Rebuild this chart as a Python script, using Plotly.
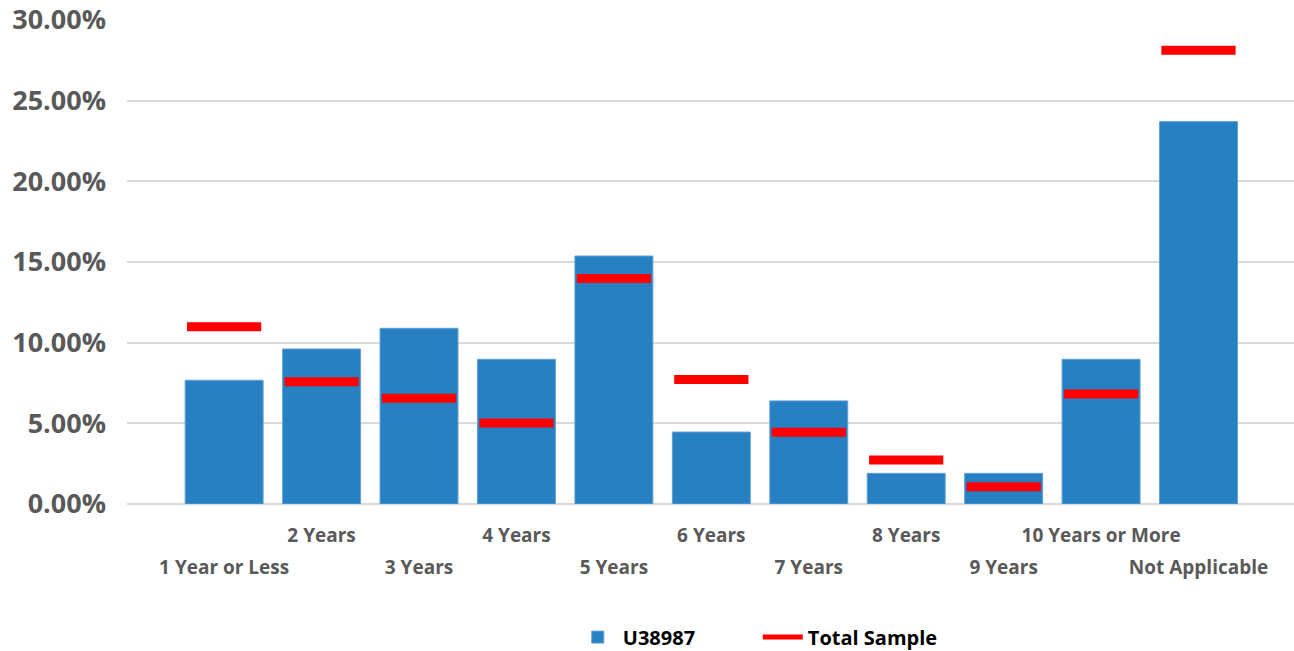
import plotly.graph_objects as go

categories = ["1 Year or Less", "2 Years", "3 Years", "4 Years", "5 Years", "6 Years",
              "7 Years", "8 Years", "9 Years", "10 Years or More", "Not Applicable"]
u38987 = [0.0767, 0.0961, 0.1089, 0.0897, 0.1537, 0.0446, 0.0639, 0.0190, 0.0190, 0.0897, 0.2370]
total_sample = [0.1099, 0.0758, 0.0655, 0.0502, 0.1397, 0.0771, 0.0444, 0.0273, 0.0107, 0.0682, 0.2813]
y_ticks = [0, 0.05, 0.10, 0.15, 0.20, 0.25, 0.30]

idx = list(range(len(categories)))
odd_idx = [i for i in idx if i % 2 == 1]
even_idx = [i for i in idx if i % 2 == 0]

FONT = "Open Sans"
xr = [-0.997, 10.98]

fig = go.Figure()
fig.add_trace(go.Bar(
    x=idx, y=u38987, name="U38987",
    marker=dict(color="#2680C2", line=dict(color="#5FA0D8", width=1)),
))
fig.add_trace(go.Scatter(
    x=idx, y=total_sample, name="Total Sample", mode="markers", showlegend=False,
    marker=dict(symbol="line-ew", size=53, color="#FF0000",
                line=dict(color="#FF0000", width=9)),
))
# legend entry for the Total Sample marks (drawn as a red line, as in the reference)
fig.add_trace(go.Scatter(
    x=[None], y=[None], name="Total Sample", mode="lines",
    line=dict(color="#FF0000", width=5), hoverinfo="skip",
))

fig.update_layout(
    width=1294, height=651,
    margin=dict(l=127, r=0, t=20, b=147, autoexpand=False),
    paper_bgcolor="white", plot_bgcolor="white",
    bargap=0.2,
    font=dict(family=FONT),
    showlegend=True,
    legend=dict(orientation="h", x=0.382, xanchor="left", y=-0.275, yanchor="middle",
                font=dict(family=FONT, size=20, color="black", weight="bold"),
                itemwidth=40, entrywidth=130, entrywidthmode="pixels", tracegroupgap=0),
    xaxis=dict(
        range=xr, showgrid=False, zeroline=False, showline=False, automargin=False,
        tickmode="array", tickvals=odd_idx, ticktext=[categories[i] for i in odd_idx],
        ticks="", ticklabelstandoff=18,
        tickfont=dict(family=FONT, size=19, color="#595959", weight="bold"),
    ),
    xaxis2=dict(
        range=xr, overlaying="x", anchor="y", side="bottom", matches="x", automargin=False,
        showgrid=False, zeroline=False, showline=False,
        tickmode="array", tickvals=even_idx, ticktext=[categories[i] for i in even_idx],
        ticks="", ticklabelstandoff=50,
        tickfont=dict(family=FONT, size=19, color="#595959", weight="bold"),
    ),
    yaxis=dict(
        range=[0, 0.30], tickmode="array", tickvals=y_ticks, automargin=False,
        tickformat=".2%", showgrid=True, gridcolor="#D9D9D9", gridwidth=2,
        zeroline=True, zerolinecolor="#D9D9D9", zerolinewidth=2,
        ticks="", ticklabelstandoff=20,
        tickfont=dict(family=FONT, size=27, color="#595959", weight="bold"),
    ),
)
# invisible trace to activate xaxis2
fig.add_trace(go.Scatter(x=even_idx, y=[None] * len(even_idx), xaxis="x2", yaxis="y",
                         showlegend=False, hoverinfo="skip"))

fig.write_html(
    "out.html",
    config={"displayModeBar": False},
    post_script="document.body.style.margin='0';document.body.style.overflow='hidden';",
)
